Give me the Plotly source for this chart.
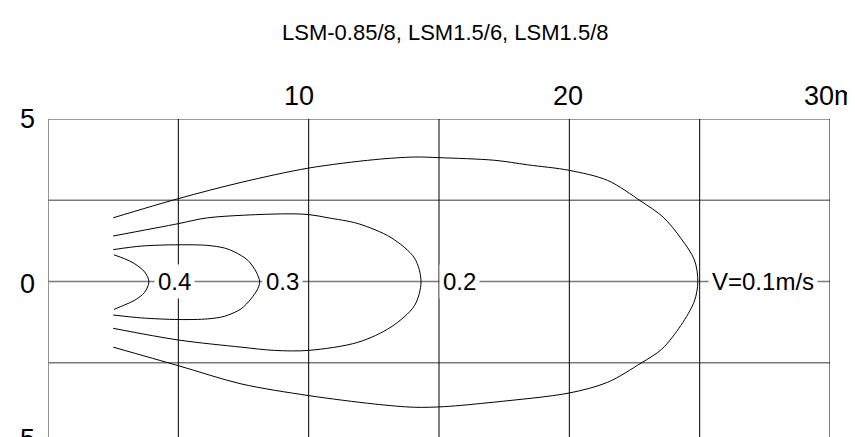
import plotly.graph_objects as go

# ---- data ----
title_text = "LSM-0.85/8, LSM1.5/6, LSM1.5/8"

x_ticks = [10, 20, 30]
x_tick_labels = ["10", "20", "30m"]
y_ticks = [5, 0, -5]
y_tick_labels = ["5", "0", "5"]

v01_x = [2.5, 5.0, 7.41, 10.0, 12.53, 14.06, 15.0, 17.13, 18.4, 20.0, 21.47, 22.75, 23.6, 24.28, 24.8, 24.93,
         24.8, 24.28, 23.55, 22.75, 21.47, 20.0, 17.13, 15.21, 14.06, 12.53, 10.0, 7.41, 5.0, 2.5]
v01_y = [1.96, 2.55, 3.05, 3.49, 3.75, 3.83, 3.81, 3.73, 3.59, 3.42, 3.11, 2.47, 1.98, 1.33, 0.66, 0.0,
         -0.6, -1.35, -2.08, -2.51, -3.1, -3.43, -3.71, -3.85, -3.87, -3.77, -3.51, -3.15, -2.59, -2.02]

v02_x = [2.5, 5.0, 6.13, 8.95, 10.0, 10.74, 11.9, 13.16, 14.06, 14.31,
         14.06, 13.16, 11.89, 10.0, 8.69, 7.41, 5.0, 2.5]
v02_y = [1.4, 1.78, 1.96, 2.08, 2.06, 1.96, 1.78, 1.35, 0.72, 0.0,
         -0.74, -1.4, -1.87, -2.12, -2.12, -2.02, -1.8, -1.44]

v03_x = [2.5, 3.58, 5.01, 6.13, 6.77, 7.16, 7.67, 7.99, 8.12,
         8.05, 7.79, 7.41, 6.77, 6.13, 5.01, 3.58, 2.5]
v03_y = [0.98, 1.09, 1.13, 1.11, 1.03, 0.91, 0.65, 0.29, 0.0,
         -0.22, -0.53, -0.84, -1.07, -1.15, -1.17, -1.12, -1.03]

v04_x = [2.53, 2.94, 3.32, 3.71, 3.87, 3.71, 3.32, 2.94, 2.53]
v04_y = [0.82, 0.7, 0.55, 0.29, 0.0, -0.33, -0.58, -0.72, -0.86]

label_text = ["0.4", "0.3", "0.2", "V=0.1m/s"]
label_x = [4.86, 8.99, 15.79, 27.42]
label_y = [0, 0, 0, 0]

grid_x = [0, 5, 10, 15, 20, 25, 30]
grid_y = [5, 2.5, 0, -2.5, -5]

# ---- figure ----
FONT = "Liberation Sans, Arial, sans-serif"
fig = go.Figure()

for xs, ys in [(v01_x, v01_y), (v02_x, v02_y), (v03_x, v03_y), (v04_x, v04_y)]:
    fig.add_trace(go.Scatter(x=xs, y=ys, mode="lines",
                             line=dict(color="black", width=1, shape="spline", smoothing=0.9),
                             hoverinfo="skip", showlegend=False))

shapes = []
for gy in grid_y:
    shapes.append(dict(type="line", xref="x", yref="y", x0=0, x1=30, y0=gy, y1=gy,
                       line=dict(color="#7a7a7a", width=1.6), layer="below"))
for gx in grid_x:
    col = "#7a7a7a" if gx == 0 else "black"
    w = 1.6 if gx == 0 else 1
    shapes.append(dict(type="line", xref="x", yref="y", x0=gx, x1=gx, y0=-5, y1=5,
                       line=dict(color=col, width=w), layer="below"))

annotations = []
for t, lx, ly in zip(label_text, label_x, label_y):
    annotations.append(dict(x=lx, y=ly, xref="x", yref="y", text=t, showarrow=False,
                            font=dict(family=FONT, size=24, color="black"),
                            bgcolor="white", borderpad=3, xanchor="center", yanchor="middle"))

x_label_shift = {"10": -10, "20": -1, "30m": 0}
for tx, tl in zip(x_ticks, x_tick_labels):
    annotations.append(dict(x=tx, y=5, xref="x", yref="y", text=tl, showarrow=False,
                            font=dict(family=FONT, size=27, color="black"),
                            xanchor="center", yanchor="bottom", yshift=6,
                            xshift=x_label_shift[tl]))
for ty, tl in zip(y_ticks, y_tick_labels):
    annotations.append(dict(x=0, y=ty, xref="x", yref="y", text=tl, showarrow=False,
                            font=dict(family=FONT, size=27, color="black"),
                            xanchor="center", yanchor="middle", xshift=-21,
                            yshift=-2 if ty == 0 else (5 if ty == -5 else 0)))

plot_h = 437 - 111 - 1
title_center_px = 24
annotations.append(dict(x=0.5, y=(437 - 1 - title_center_px) / plot_h, xref="paper", yref="paper",
                        text=title_text, showarrow=False,
                        font=dict(family=FONT, size=22, color="black"),
                        xanchor="center", yanchor="middle", xshift=6))

fig.update_layout(
    width=855, height=437,
    margin=dict(l=40, r=33, t=111, b=1, autoexpand=False),
    paper_bgcolor="white", plot_bgcolor="white",
    xaxis=dict(range=[0, 30], showgrid=False, zeroline=False, showticklabels=False, showline=False, fixedrange=True),
    yaxis=dict(range=[-5, 5], showgrid=False, zeroline=False, showticklabels=False, showline=False, fixedrange=True),
    shapes=shapes, annotations=annotations, showlegend=False,
)

fig.write_html("out.html")
